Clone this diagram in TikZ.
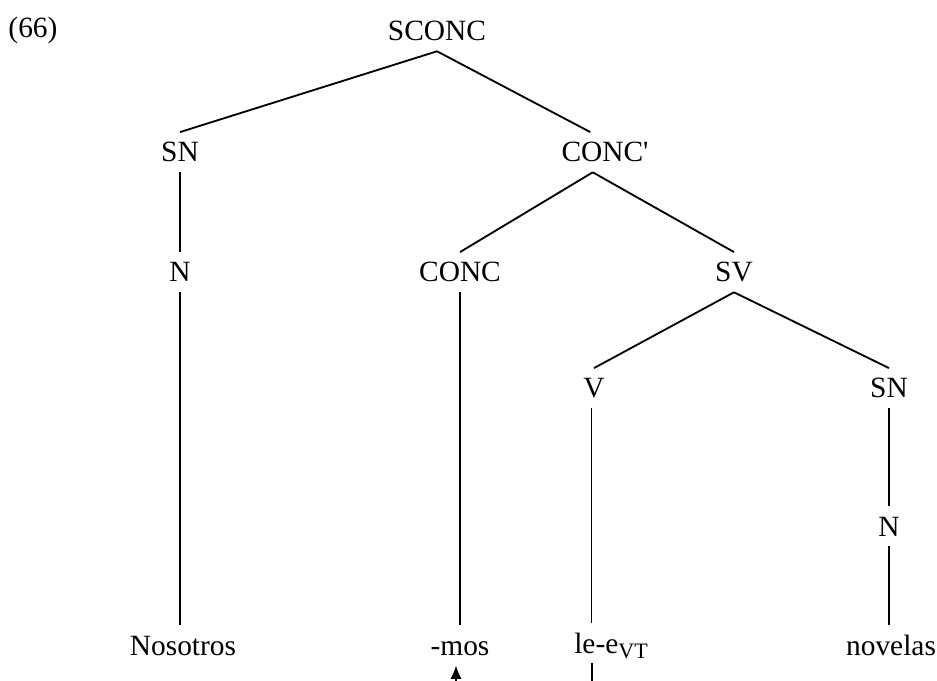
\documentclass[tikz,border=0pt]{standalone}
\usepackage{fontspec}
\setmainfont{Liberation Serif}
\usetikzlibrary{arrows.meta}
\tikzset{
  cat/.style={anchor=base,inner sep=4pt,text height=8pt,text depth=0pt,font=\fontsize{12}{14}\selectfont},
  branch/.style={line width=0.75pt},
  trace/.style={line width=0.75pt,-{Latex[length=5.5pt,width=4.5pt]}}
}
\newcommand{\lowsub}[1]{\raisebox{-2.4pt}{\fontsize{9}{10}\selectfont #1}}
\begin{document}
\begin{tikzpicture}[x=0.408pt,y=-0.408pt]
\useasboundingbox (0,0) rectangle (937,681);
\node[cat,anchor=base west,inner sep=0pt] (exnum) at (8,38) {(66)};
% categorias
\node[cat] (sconc) at (437,41) {SCONC};
\node[cat] (sn1) at (180,162) {SN};
\node[cat] (concp) at (605,162) {CONC\textquotesingle};
\node[cat] (n1) at (180,282) {N};
\node[cat] (conc) at (460,282) {CONC};
\node[cat] (sv) at (734,282) {SV};
\node[cat] (v) at (594,398) {V};
\node[cat] (sn2) at (889,398) {SN};
\node[cat] (n2) at (889,536) {N};
% palabras
\node[cat] (nos) at (183,655) {Nosotros};
\node[cat] (mos) at (460,655) {-mos};
\node[cat,anchor=base west] (lee) at (564,653) {le-e\lowsub{VT}};
\node[cat] (nov) at (891,655) {novelas};
\coordinate (cutmos) at (456,681);
\coordinate (cutlee) at (592,681);
% ramas
\draw[branch] (sconc.south) -- (sn1.north);
\draw[branch] (sconc.south) -- ([xshift=-6pt]concp.north);
\draw[branch] (sn1.south) -- (n1.north);
\draw[branch] (n1.south) -- (n1.south |- nos.north);
\draw[branch] ([xshift=-5pt]concp.south) -- (conc.north);
\draw[branch] ([xshift=-5pt]concp.south) -- (sv.north);
\draw[branch] (conc.south) -- (conc.south |- mos.north);
\draw[branch] (sv.south) -- (v.north);
\draw[branch] (sv.south) -- (sn2.north);
\draw[branch] ([xshift=-1pt]v.south) -- ([xshift=-1pt]v.south |- lee.north);
\draw[branch] (sn2.south) -- (n2.north);
\draw[branch] (n2.south) -- (n2.south |- nov.north);
\draw[branch] (cutlee |- lee.south) -- (cutlee);
\draw[trace] (cutmos) -- (cutmos |- mos.south);
\end{tikzpicture}
\end{document}
